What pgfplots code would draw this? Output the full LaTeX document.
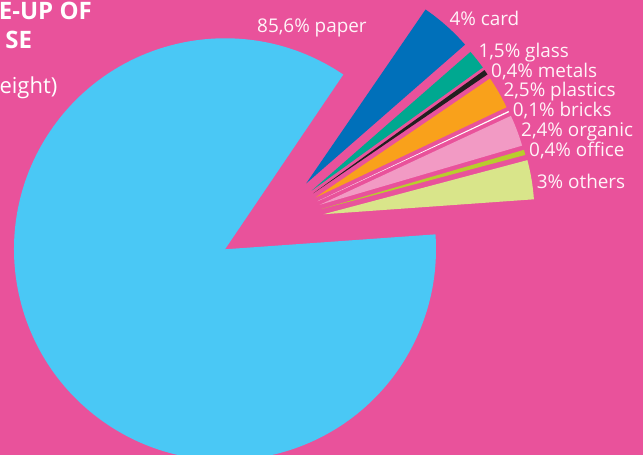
\documentclass[border=0pt]{standalone}
\usepackage{pgfplots}
\pgfplotsset{compat=1.18}
\usepackage{pgfplotstable}
\usepackage{fontspec}
\setmainfont{Open Sans}
\definecolor{bg}{HTML}{E9529B}
\definecolor{cpaper}{HTML}{4AC8F5}
\definecolor{ccard}{HTML}{0070BA}
\definecolor{cglass}{HTML}{00A890}
\definecolor{cmetals}{HTML}{231F20}
\definecolor{cplastics}{HTML}{F9A11B}
\definecolor{cbricks}{HTML}{FFFFFF}
\definecolor{corganic}{HTML}{F29AC4}
\definecolor{coffice}{HTML}{B8CD2D}
\definecolor{cothers}{HTML}{D9E58A}
\definecolor{labeltext}{HTML}{FFF4F8}

% value (%), name, colour, explode angle, explode distance, label x, label baseline y
\pgfplotstableread{
value name     col       ea     ed     lx     ly
85.6  paper    cpaper    0      0      257    422.3
3     others   cothers   19.6   104.5  536.7  266.3
0.4   office   coffice   22.66  104.5  529    298.3
2.4   organic  corganic  25.18  104.5  521    318
0.1   bricks   cbricks   27.43  104.5  512.7  338.3
2.5   plastics cplastics 29.77  104.5  503.3  358.3
0.4   metals   cmetals   32.38  104.5  491    377.7
1.5   glass    cglass    34.09  104.5  478.3  397.7
4     card     ccard     39.04  104.5  449.3  429
}\slices

\begin{document}
\begin{tikzpicture}
\path[use as bounding box] (0,0) rectangle (643pt,455pt);
\clip (0,0) rectangle (643pt,455pt);
\begin{axis}[
  at={(0,0)}, anchor=south west,
  x=1pt, y=1pt,
  xmin=0, xmax=643, ymin=0, ymax=455,
  scale only axis,
  hide axis,
  clip=true,
]
\fill[bg] (axis cs:0,0) rectangle (axis cs:643,455);
\pgfplotstablegetrowsof{\slices}
\pgfmathtruncatemacro\nrows{\pgfplotsretval-1}
\xdef\curang{55.9}
\pgfplotsforeachungrouped \i in {0,...,\nrows}{%
  \pgfplotstablegetelem{\i}{value}\of\slices \let\val\pgfplotsretval
  \pgfplotstablegetelem{\i}{name}\of\slices \let\nm\pgfplotsretval
  \pgfplotstablegetelem{\i}{col}\of\slices \let\col\pgfplotsretval
  \pgfplotstablegetelem{\i}{ea}\of\slices \let\ea\pgfplotsretval
  \pgfplotstablegetelem{\i}{ed}\of\slices \let\ed\pgfplotsretval
  \pgfplotstablegetelem{\i}{lx}\of\slices \let\lx\pgfplotsretval
  \pgfplotstablegetelem{\i}{ly}\of\slices \let\ly\pgfplotsretval
  \pgfmathsetmacro\sa{\curang}
  \pgfmathsetmacro\eb{\curang + 3.6*\val}
  \pgfmathsetmacro\ax{225 + \ed*cos(\ea)}
  \pgfmathsetmacro\ay{205.7 + \ed*sin(\ea)}
  \edef\temp{%
    \noexpand\fill[\col] (axis cs:\ax,\ay) -- ++(\sa:211pt)
      arc[start angle=\sa, end angle=\eb, radius=211pt] -- cycle;
    \noexpand\node[anchor=base west, inner sep=0pt, text=labeltext,
      font=\noexpand\fontsize{18.9}{20}\noexpand\selectfont]
      at (axis cs:\lx,\ly)
      {\noexpand\pgfmathprintnumber[use comma, assume math mode=true]{\val}\noexpand\%~\nm};
  }%
  \temp
  \xdef\curang{\eb}%
}
\node[anchor=base east, inner sep=0pt, text=white, font=\bfseries\fontsize{24}{26}\selectfont]
  at (axis cs:92,435) {E-UP OF};
\node[anchor=base east, inner sep=0pt, text=white, font=\bfseries\fontsize{24}{26}\selectfont]
  at (axis cs:32.3,406.7) {SE};
\node[anchor=base east, inner sep=0pt, text=white, font=\fontsize{22}{24}\selectfont]
  at (axis cs:57.5,361.7) {eight)};
\end{axis}
\end{tikzpicture}
\end{document}
